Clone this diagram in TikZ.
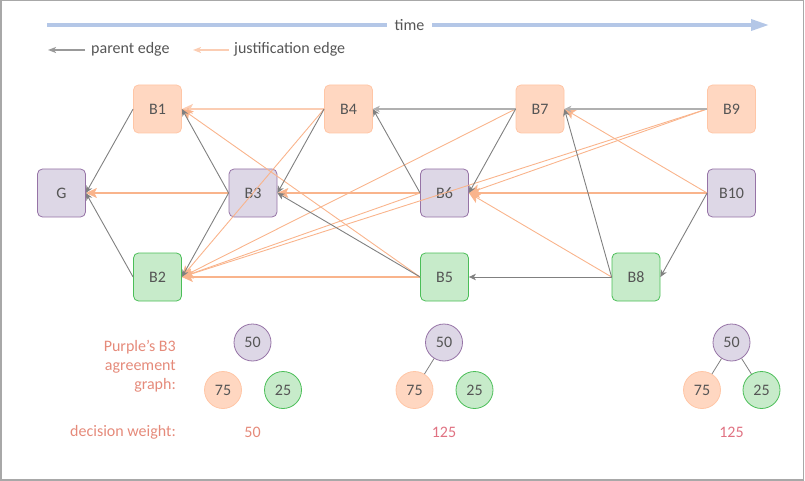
\documentclass[tikz,border=0pt]{standalone}
\usepackage{fontspec}
\setmainfont{Carlito}
\usetikzlibrary{arrows.meta}

\definecolor{peachfill}{HTML}{FFD7C1}
\definecolor{peachline}{HTML}{FFC6A6}
\definecolor{purplefill}{HTML}{DDD7E6}
\definecolor{purpleline}{HTML}{9673A6}
\definecolor{greenfill}{HTML}{C7EBCA}
\definecolor{greenline}{HTML}{4BBE58}
\definecolor{parentgray}{HTML}{808080}
\definecolor{parentlight}{HTML}{B0B0B0}
\definecolor{justorange}{HTML}{F9B48C}
\definecolor{justlight}{HTML}{FBCDB3}
\definecolor{timeblue}{HTML}{B4C7E7}
\definecolor{txt}{HTML}{555555}
\definecolor{salmon}{HTML}{E58A7A}
\definecolor{weightpink}{HTML}{E07282}
\definecolor{framegray}{HTML}{A8A8A8}

\tikzset{
  block/.style={rectangle, rounded corners=5pt, minimum size=48pt,
    inner sep=0pt, line width=0.8pt, text=txt},
  peach/.style={block, fill=peachfill, draw=peachline},
  purple/.style={block, fill=purplefill, draw=purpleline},
  green/.style={block, fill=greenfill, draw=greenline},
  ball/.style={circle, minimum size=37pt, inner sep=0pt, line width=0.8pt, text=txt},
  peachball/.style={ball, fill=peachfill, draw=peachline},
  purpleball/.style={ball, fill=purplefill, draw=purpleline},
  greenball/.style={ball, fill=greenfill, draw=greenline},
  parent/.style={draw=parentgray, line width=0.9pt,
    -{Stealth[length=7pt,width=6.5pt,inset=2pt]}},
  parentflat/.style={parent, draw=parentlight, line width=1.8pt},
  justif/.style={draw=justorange, line width=0.9pt,
    -{Stealth[length=11pt,width=10pt,inset=2.5pt,fill=justorange]}},
  justifflat/.style={justif, line width=1.05pt},
  justiftop/.style={justif, draw=justlight, line width=1.8pt},
  treelink/.style={draw=parentgray, line width=0.8pt},
  timeline/.style={draw=timeblue, line width=3.5pt},
  caption/.style={text=salmon, align=right, inner sep=0pt},
}

\begin{document}
\begin{tikzpicture}[x=1pt, y=-1pt, font=\fontsize{16}{19}\selectfont]
  \useasboundingbox (0,0) rectangle (805,481);
  \draw[framegray, line width=1.5pt] (0.75,0.75) rectangle (803.25,479.75);

  % time axis
  \coordinate (tstart) at (47,25);
  \coordinate (tend) at (769,25);
  \node[text=txt, inner sep=0pt, minimum width=45pt] (time) at (409.5,25) {time};
  \draw[timeline] (tstart) -- (time.west);
  \draw[timeline, -{Triangle[length=18pt,width=11pt]}] (time.east) -- (tend);

  % legend
  \coordinate (lpA) at (85,50);
  \coordinate (lpB) at (48,50);
  \coordinate (ljA) at (229,50);
  \coordinate (ljB) at (193,50);
  \draw[draw=parentgray!80, line width=1.6pt,
    -{Stealth[length=8pt,width=6pt,inset=2pt]}] (lpA) -- (lpB);
  \draw[draw=justlight, line width=1.6pt,
    -{Stealth[length=8pt,width=6pt,inset=2pt,fill=justorange]}] (ljA) -- (ljB);
  \node[anchor=west, text=txt, inner sep=0pt] (lptext) at (91,49) {parent edge};
  \node[anchor=west, text=txt, inner sep=0pt] (ljtext) at (234,49) {justification edge};

  % blocks
  \node[purple] (G)   at (61.5,193)  {G};
  \node[peach]  (B1)  at (157.5,109) {B1};
  \node[green]  (B2)  at (157.5,277) {B2};
  \node[purple] (B3)  at (253,193)   {B3};
  \node[peach]  (B4)  at (348.5,109) {B4};
  \node[green]  (B5)  at (444.5,277) {B5};
  \node[purple] (B6)  at (444.5,193) {B6};
  \node[peach]  (B7)  at (540,109)   {B7};
  \node[green]  (B8)  at (636,277)   {B8};
  \node[peach]  (B9)  at (731.5,109) {B9};
  \node[purple] (B10) at (731.5,193) {B10};

  % justification edges
  \draw[justiftop]  (B4.west)  -- (B1.east);
  \draw[justif]     (B4.west)  -- (B2.east);
  \draw[justif]     (B5.west)  -- (B1.east);
  \draw[justifflat] (B5.west)  -- (B2.east);
  \draw[justifflat] (B3.west)  -- (G.east);
  \draw[justifflat] (B6.west)  -- (B3.east);
  \draw[justif]     (B6.west)  -- (B2.east);
  \draw[justif]     (B7.west)  -- (B2.east);
  \draw[justif]     (B9.west)  -- (B2.east);
  \draw[justif]     (B9.west)  -- (B6.east);
  \draw[justifflat] (B10.west) -- (B6.east);
  \draw[justif]     (B8.west)  -- (B6.east);
  \draw[justif]     (B10.west) -- (B7.east);

  % parent edges
  \draw[parent]     (B1.west)  -- (G.east);
  \draw[parent]     (B2.west)  -- (G.east);
  \draw[parent]     (B3.west)  -- (B1.east);
  \draw[parent]     (B3.west)  -- (B2.east);
  \draw[parent]     (B4.west)  -- (B3.east);
  \draw[parent]     (B5.west)  -- (B3.east);
  \draw[parent]     (B6.west)  -- (B4.east);
  \draw[parentflat] (B7.west)  -- (B4.east);
  \draw[parent]     (B7.west)  -- (B6.east);
  \draw[parent]     (B8.west)  -- (B5.east);
  \draw[parent]     (B8.west)  -- (B7.east);
  \draw[parentflat] (B9.west)  -- (B7.east);
  \draw[parent]     (B10.west) -- (B8.east);

  % agreement graphs
  \node[caption, anchor=east] (agcap) at (176,366) {Purple’s B3\\agreement\\graph:};
  \node[caption, anchor=east] (wcap) at (176,432) {decision weight:};

  \node[purpleball] (a50) at (252.5,342.5) {50};
  \node[peachball]  (a75) at (223,390)     {75};
  \node[greenball]  (a25) at (283,390)     {25};
  \node[text=salmon, inner sep=0pt] (aw) at (252.5,432) {50};

  \node[purpleball] (b50) at (444,342.5)   {50};
  \node[peachball]  (b75) at (414.5,390)   {75};
  \node[greenball]  (b25) at (474.5,390)   {25};
  \node[text=weightpink, inner sep=0pt] (bw) at (444,432) {125};
  \draw[treelink] (b50) -- (b75);

  \node[purpleball] (c50) at (731.5,342.5) {50};
  \node[peachball]  (c75) at (702,390)     {75};
  \node[greenball]  (c25) at (761.5,390)   {25};
  \node[text=weightpink, inner sep=0pt] (cw) at (731.5,432) {125};
  \draw[treelink] (c50) -- (c75);
  \draw[treelink] (c50) -- (c25);
\end{tikzpicture}
\end{document}
